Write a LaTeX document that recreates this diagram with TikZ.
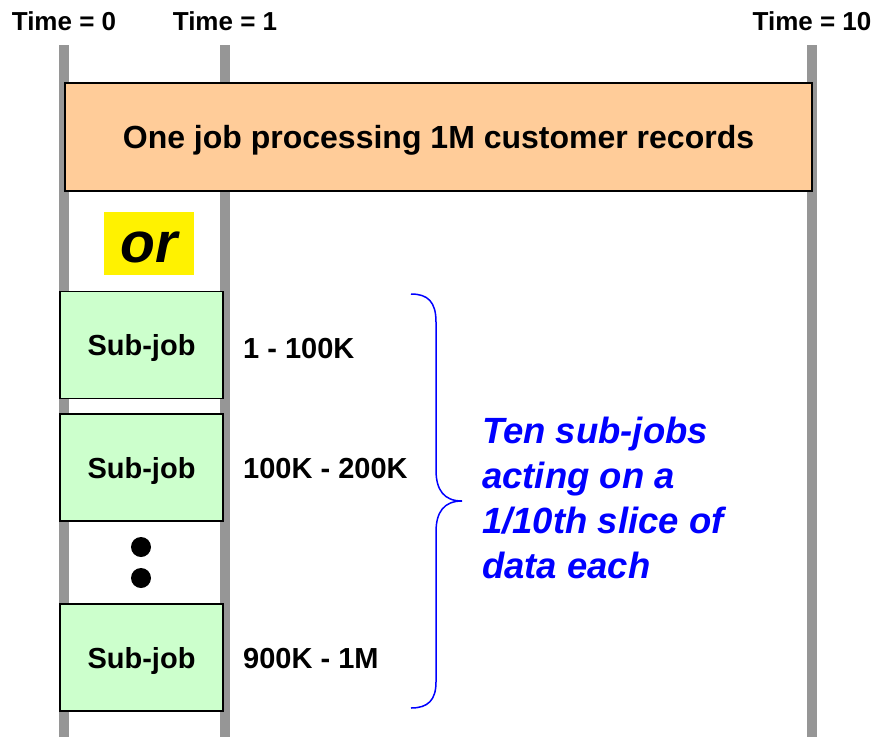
\documentclass[tikz,border=0pt]{standalone}
\usepackage{fontspec}
\setmainfont{Liberation Sans}
\definecolor{peach}{HTML}{FFCC99}
\definecolor{mint}{HTML}{CCFFCC}
\definecolor{rail}{HTML}{969696}
\begin{document}
\begin{tikzpicture}[x=1pt,y=-1pt,
  timelbl/.style={font=\fontsize{26}{30}\selectfont\bfseries},
  subjob/.style={draw,line width=1.5pt,fill=mint,minimum width=163pt,minimum height=107pt,inner sep=0pt,text depth=0pt,font=\fontsize{29}{34}\selectfont\bfseries},
  rangelbl/.style={anchor=west,inner sep=0pt,font=\fontsize{29}{34}\selectfont\bfseries},
  dotmark/.style={circle,fill=black,minimum size=20pt,inner sep=0pt}]
\useasboundingbox (0,0) rectangle (875,737);
\node[timelbl] (t0) at (64,21) {Time = 0};
\node[timelbl] (t1) at (225,21) {Time = 1};
\node[timelbl] (t10) at (812,21) {Time = 10};
\foreach \t in {t0,t1,t10}
  \draw[rail,line width=10pt] (\t |- 0,45) -- (\t |- 0,737);
\node[draw,line width=1.5pt,fill=peach,minimum width=747pt,minimum height=108pt,inner sep=0pt,text depth=0pt,font=\fontsize{32}{36}\selectfont\bfseries] (job) at (438.5,137) {One job processing 1M customer records};
\node[fill=yellow,minimum width=90pt,minimum height=63pt,inner sep=0pt,text height=37pt,text depth=0pt,font=\fontsize{57}{60}\selectfont\bfseries\itshape] (or) at (149,243.5) {or};
\node[subjob] (s1) at (141.5,345) {Sub-job};
\node[subjob] (s2) at (141.5,467.5) {Sub-job};
\node[subjob] (s3) at (141.5,657.5) {Sub-job};
\node[rangelbl] (r1) at (243,349) {1 - 100K};
\node[rangelbl] (r2) at (243,469) {100K - 200K};
\node[rangelbl] (r3) at (243,659) {900K - 1M};
\node[dotmark] (d1) at (141,547) {};
\node[dotmark] (d2) at (141,578) {};
\coordinate (btop) at (411,294);
\coordinate (btip) at (462,501);
\coordinate (bbot) at (411,708);
\draw[blue,line width=1.5pt] (btop) .. controls (428,294) and (436,302) .. (436,322) -- (436,470) .. controls (436,490) and (444,501) .. (btip) .. controls (444,501) and (436,512) .. (436,532) -- (436,682) .. controls (436,700) and (428,708) .. (bbot);
\node[anchor=north west,inner sep=0pt,align=left,text=blue,font=\fontsize{36.5}{45}\selectfont\bfseries\itshape] (note) at (482,417) {Ten sub-jobs\\acting on a\\1/10th slice of\\data each};
\end{tikzpicture}
\end{document}
